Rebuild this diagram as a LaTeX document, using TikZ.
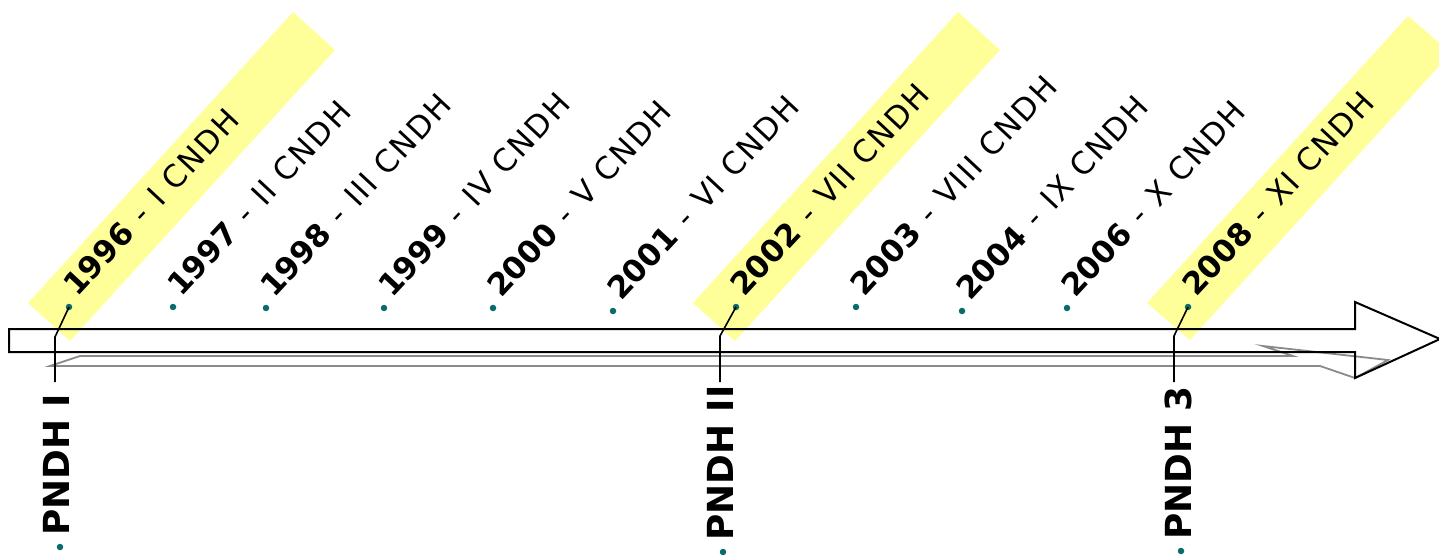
\documentclass[tikz,border=0pt]{standalone}
\usepackage{fontspec}
\setmainfont{DejaVu Sans}
\definecolor{bandyellow}{HTML}{FFFF99}
\definecolor{dotteal}{HTML}{0B6B6B}
\definecolor{shadowgrey}{HTML}{8A8A8A}
\newcommand{\restlbl}[1]{{\addfontfeature{LetterSpace=6}#1}}
\newcommand{\yearline}[2]{\textbf{#1}\hspace{0.42em}-\hspace{0.42em}\restlbl{#2}}
\begin{document}
\begin{tikzpicture}[x=1bp,y=-1bp,
  yearlbl/.style={rotate=47,anchor=base west,inner sep=0pt,font=\fontsize{31}{31}\selectfont},
  pndhlbl/.style={rotate=90,anchor=base west,inner sep=0pt,font=\fontsize{36}{36}\selectfont\bfseries},
  bulletdot/.style={circle,fill=dotteal,draw=none,inner sep=0pt,minimum size=6.5bp},
  bandfill/.style={fill=bandyellow,draw=none},
  conn/.style={draw=black,line width=1.6bp},
  arrowline/.style={draw=black,line width=2bp,line join=miter},
  shadowline/.style={draw=shadowgrey,line width=1.8bp,line join=miter}
]
\useasboundingbox (0,0) rectangle (1439,558);
% highlight bands
\fill[bandfill] (28,303) -- ++(265,-291) -- ++(42,38) -- ++(-265,291) -- cycle;
\fill[bandfill] (693,303) -- ++(265,-291) -- ++(42,38) -- ++(-265,291) -- cycle;
\fill[bandfill] (1147,303) -- ++(261,-287) -- ++(43,37) -- ++(-261,287) -- cycle;
% grey shadow arrow
\draw[shadowline] (50,366) -- (80,356) -- (1293,356) -- (1263,346) -- (1388,360) -- (1355,378) -- (1320,366) -- cycle;
% main arrow
\draw[arrowline] (9,329) -- (1355,329) -- (1355,302) -- (1440,339) -- (1355,378) -- (1355,352) -- (9,352) -- cycle;
% year bullets and labels
\node[bulletdot] (d96) at (69,307) {};
\node[bulletdot] (d97) at (173,307) {};
\node[bulletdot] (d98) at (266,308) {};
\node[bulletdot] (d99) at (384,308) {};
\node[bulletdot] (d00) at (493,308) {};
\node[bulletdot] (d01) at (613,311) {};
\node[bulletdot] (d02) at (736,307) {};
\node[bulletdot] (d03) at (856,307) {};
\node[bulletdot] (d04) at (962,311) {};
\node[bulletdot] (d06) at (1067,308) {};
\node[bulletdot] (d08) at (1188,307) {};
\node[yearlbl] (y96) at (77,298) {\yearline{1996}{I CNDH}};
\node[yearlbl] (y97) at (181,298) {\yearline{1997}{II CNDH}};
\node[yearlbl] (y98) at (274,299) {\yearline{1998}{III CNDH}};
\node[yearlbl] (y99) at (392,299) {\yearline{1999}{IV CNDH}};
\node[yearlbl] (y00) at (501,299) {\yearline{2000}{V CNDH}};
\node[yearlbl] (y01) at (621,302) {\yearline{2001}{VI CNDH}};
\node[yearlbl] (y02) at (744,298) {\yearline{2002}{VII CNDH}};
\node[yearlbl] (y03) at (864,298) {\yearline{2003}{VIII CNDH}};
\node[yearlbl] (y04) at (970,302) {\yearline{2004}{IX CNDH}};
\node[yearlbl] (y06) at (1075,299) {\yearline{2006}{X CNDH}};
\node[yearlbl] (y08) at (1196,298) {\yearline{2008}{XI CNDH}};
% PNDH labels
\node[pndhlbl] (p1) at (69,536) {PNDH I};
\node[pndhlbl] (p2) at (733,541) {PNDH II};
\node[pndhlbl] (p3) at (1191,540) {PNDH 3};
\node[bulletdot] (pd1) at (60,547) {};
\node[bulletdot] (pd2) at (723,552) {};
\node[bulletdot] (pd3) at (1181,551) {};
% connectors
\coordinate (b1) at (55,337);
\coordinate (e1) at (55,382);
\coordinate (b2) at (720,336);
\coordinate (e2) at (720,382);
\coordinate (b3) at (1174,336);
\coordinate (e3) at (1174,382);
\draw[conn] (d96.center) -- (b1) -- (e1);
\draw[conn] (d02.center) -- (b2) -- (e2);
\draw[conn] (d08.center) -- (b3) -- (e3);
\end{tikzpicture}
\end{document}
